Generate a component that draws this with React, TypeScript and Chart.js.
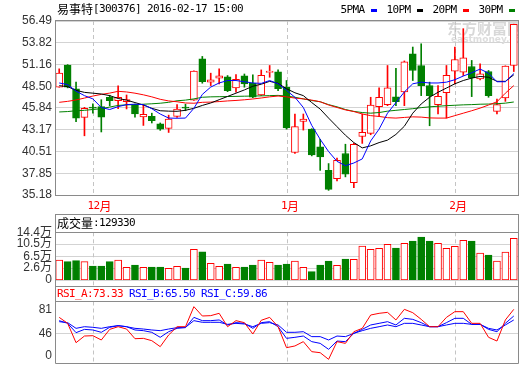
import React, { useEffect, useRef } from 'react';
import { Chart, registerables } from 'chart.js';
Chart.register(...registerables);

// ---------------- data ----------------
const dates = [
  '2015-11-25','2015-11-26','2015-11-27','2015-11-30',
  '2015-12-01','2015-12-02','2015-12-03','2015-12-04','2015-12-07','2015-12-08','2015-12-09','2015-12-10','2015-12-11',
  '2015-12-14','2015-12-15','2015-12-16','2015-12-17','2015-12-18','2015-12-21','2015-12-22','2015-12-23','2015-12-24','2015-12-25',
  '2015-12-28','2015-12-29','2015-12-30','2015-12-31',
  '2016-01-04','2016-01-05','2016-01-06','2016-01-07','2016-01-08','2016-01-11','2016-01-12','2016-01-13','2016-01-14','2016-01-15',
  '2016-01-18','2016-01-19','2016-01-20','2016-01-21','2016-01-22','2016-01-25','2016-01-26','2016-01-27','2016-01-28','2016-01-29',
  '2016-02-01','2016-02-02','2016-02-03','2016-02-04','2016-02-05','2016-02-15','2016-02-16','2016-02-17',
];
const opens = [48.38,51.1,48.17,44.69,45.95,46.0,47.15,46.74,46.61,46.2,44.75,44.82,43.9,43.33,44.81,45.95,46.8,51.86,48.99,49.48,49.65,48.3,49.77,48.87,47.43,50.18,50.26,48.4,40.38,44.2,43.25,41.08,38.21,37.19,40.26,36.68,42.35,42.72,46.0,46.25,47.2,47.8,52.48,51.04,48.58,46.25,47.72,50.35,50.22,50.92,49.4,50.3,45.42,47.06,51.04];
const highs = [50.63,51.15,49.0,45.92,46.35,46.85,47.4,48.55,47.43,46.3,46.2,45.2,44.0,44.96,46.25,46.3,50.4,52.15,50.1,50.63,49.81,49.94,50.0,49.9,50.5,51.04,50.5,49.2,45.1,45.1,43.3,42.0,39.03,39.7,41.4,41.5,45.1,47.15,48.3,51.04,50.7,51.6,53.3,53.7,49.0,48.58,51.04,53.3,55.55,51.66,51.25,50.43,46.94,51.0,56.1];
const lows = [48.38,48.3,44.15,42.43,45.2,42.9,46.1,45.75,45.72,44.7,43.7,44.0,43.1,42.84,44.69,45.5,46.75,48.87,48.58,48.79,47.84,47.76,48.38,47.1,47.35,49.6,47.97,43.25,40.26,43.13,39.97,38.2,35.75,36.9,37.4,36.08,41.5,42.56,44.77,46.12,46.12,46.12,49.2,47.35,43.66,45.1,44.6,48.79,49.81,47.23,49.28,47.15,45.1,46.65,50.3];
const closes = [50.1,48.4,44.6,45.79,45.8,44.7,46.73,47.15,46.86,45.1,45.05,44.28,43.25,44.47,45.71,45.8,50.35,49.07,49.28,49.77,47.97,49.36,48.79,47.15,49.85,50.35,48.21,43.4,43.55,44.48,40.1,39.85,35.87,39.44,37.72,41.4,42.84,46.2,47.15,48.3,46.62,51.5,50.43,48.58,47.35,47.27,49.85,51.78,51.99,49.52,50.02,47.35,46.25,50.96,56.08];

const ma5 = [48.9,48.7,47.9,47.35,46.95,45.9,45.65,46.0,46.25,46.3,46.25,45.75,45.1,44.6,44.58,44.6,45.8,47.5,48.4,48.9,49.2,49.2,49.05,48.9,48.85,49.2,48.8,48.0,47.15,45.9,43.7,42.0,40.5,39.3,38.77,39.1,39.6,41.8,43.25,45.2,46.5,47.8,48.8,49.0,48.9,48.9,49.0,49.3,49.75,50.15,50.6,50.1,49.05,49.05,50.05];
const ma10 = [48.57,48.45,48.0,47.75,47.65,47.55,47.35,47.0,46.8,46.5,46.2,45.8,45.5,45.45,45.43,45.55,45.8,46.15,46.45,46.85,47.25,47.65,48.05,48.5,48.75,49.1,48.85,48.2,47.7,47.35,46.5,45.7,44.6,43.55,42.5,41.6,40.95,41.2,41.6,41.9,42.6,43.6,45.2,46.33,47.15,47.76,48.28,48.8,49.2,49.5,49.7,49.6,49.1,49.1,49.9];
const ma20 = [46.53,46.65,46.82,47.05,47.3,47.5,47.66,47.88,47.8,47.65,47.45,47.2,46.9,46.7,46.6,46.45,46.42,46.53,46.56,46.62,46.7,46.76,46.84,46.94,47.06,47.2,47.3,47.2,47.05,46.95,46.8,46.6,46.2,45.9,45.6,45.4,45.1,44.9,44.8,44.65,44.6,44.68,44.75,44.72,44.62,44.6,44.6,44.9,45.2,45.5,45.82,46.2,46.6,47.65,48.58];
const ma30 = [45.35,45.4,45.5,45.55,45.65,45.75,45.95,46.15,46.22,46.25,46.3,46.35,46.42,46.53,46.72,46.8,46.95,47.15,47.2,47.22,47.24,47.26,47.28,47.3,47.32,47.35,47.38,47.3,47.15,46.95,46.75,46.6,46.25,45.98,45.65,45.42,45.28,45.2,45.28,45.45,45.55,45.65,45.75,45.88,45.98,46.05,46.12,46.17,46.22,46.25,46.3,46.32,46.36,46.43,46.57];

// volume in 万 (10k shares)
const volumes = [5.27,4.71,5.04,4.71,3.29,3.29,4.71,5.27,2.86,3.62,2.86,2.96,2.96,2.53,3.19,2.63,8.79,8.0,4.18,3.19,3.95,2.86,2.96,3.62,5.27,4.5,3.62,3.95,4.94,2.86,1.41,3.62,4.94,3.51,5.6,5.5,9.88,8.79,9.12,10.44,9.22,10.77,11.53,12.85,11.53,10.77,9.12,9.78,11.76,11.53,7.57,6.92,4.94,7.9,12.42];

const rsiA = [69.3,60.6,32.4,42.1,42.6,36.3,51.8,55.7,52.3,38.2,38.7,35.3,26.6,43.6,55.7,55.7,84.9,71.3,71.8,75.2,55.7,64.5,61.6,45.0,65.0,69.3,55.7,25.1,27.6,33.9,19.3,17.8,8.1,33.9,31.4,48.4,53.3,72.7,75.2,76.6,65.5,81.0,76.1,66.4,55.7,55.7,69.3,77.6,77.6,60.6,60.6,40.2,34.8,65.5,81.0];
const rsiB = [64.5,60.6,47.0,51.8,50.9,47.5,54.8,57.2,55.7,50.9,49.9,47.5,40.2,48.4,53.3,54.3,69.3,64.5,64.5,65.5,58.2,61.6,60.6,53.3,61.6,63.0,55.7,38.7,40.2,42.1,33.9,31.4,22.7,34.8,33.9,46.0,51.8,58.2,60.6,63.0,58.2,67.9,66.4,61.6,55.7,55.7,61.6,67.9,67.9,59.1,59.1,51.8,48.4,60.6,71.3];
const rsiC = [63.0,61.6,53.3,55.7,54.8,53.3,55.7,57.2,55.7,53.3,52.3,50.9,49.9,52.3,54.3,54.8,64.5,62.1,62.1,62.1,59.1,60.6,59.6,55.7,60.6,61.6,58.2,47.5,47.5,48.4,41.2,41.2,36.3,42.1,41.2,46.0,49.9,53.3,55.7,58.2,55.7,60.6,60.6,58.2,55.7,55.7,58.2,60.6,60.6,59.1,59.1,53.3,50.9,58.2,65.5];

const priceTicks = [56.49, 53.82, 51.16, 48.50, 45.84, 43.17, 40.51, 37.85, 35.18];
const volAxisMin = -1.33;
const volTickValues = [-1.33, 2.6, 6.5, 10.5, 14.4];
const volTickLabels = ['0', '2.6万', '6.5万', '10.5万', '14.4万'];
const rsiTickValues = [81, 46, 0];
const rsiGridValues = [46];

const titleText = '易事特[300376] 2016-02-17 15:00';
const maLegend = [
  { label: '5PMA', color: '#0000ff' },
  { label: '10PM', color: '#000000' },
  { label: '20PM', color: '#ff0000' },
  { label: '30PM', color: '#008000' },
];
const volTitle = '成交量:129330';
const rsiTitles = [
  { text: 'RSI_A:73.33', color: '#ff0000' },
  { text: 'RSI_B:65.50', color: '#0000ff' },
  { text: 'RSI_C:59.86', color: '#0000ff' },
];

// ---------------- styles ----------------
const UP = '#ff0000';
const DOWN = '#008000';
const FRAME = '#8a8a8a';
const GRID = '#d3d3d3';
const DASH = '#c4c4c4';
const TICK_FONT = { family: "'Liberation Sans','Noto Sans CJK SC',sans-serif", size: 12 };

const isUp = closes.map((c, i) => c >= opens[i]);
const fillCols = isUp.map((u) => (u ? '#ffffff' : DOWN));
const lineCols = isUp.map((u) => (u ? UP : DOWN));
const monthStarts: { idx: number; label: string }[] = [];
dates.forEach((d, i) => {
  if (i > 0 && d.slice(0, 7) !== dates[i - 1].slice(0, 7)) {
    monthStarts.push({ idx: i, label: parseInt(d.slice(5, 7), 10) + '月' });
  }
});

function drawMono(ctx: CanvasRenderingContext2D, text: string, x: number, y: number, color: string) {
  ctx.save();
  ctx.fillStyle = color;
  ctx.textBaseline = 'middle';
  ctx.textAlign = 'left';
  let cx = x;
  for (const ch of text) {
    const cjk = ch.charCodeAt(0) > 0x2e80;
    ctx.font = cjk ? "12px 'Noto Sans CJK SC'" : "11px 'DejaVu Sans Mono'";
    if (ch !== ' ') ctx.fillText(ch, cx, y);
    cx += cjk ? 12 : 6;
  }
  ctx.restore();
  return cx;
}

function hLine(ctx: CanvasRenderingContext2D, x1: number, x2: number, y: number, color: string) {
  ctx.save();
  ctx.strokeStyle = color;
  ctx.lineWidth = 1;
  ctx.beginPath();
  ctx.moveTo(x1, y);
  ctx.lineTo(x2, y);
  ctx.stroke();
  ctx.restore();
}
function vLine(ctx: CanvasRenderingContext2D, x: number, y1: number, y2: number, color: string, dash?: number[]) {
  ctx.save();
  ctx.strokeStyle = color;
  ctx.lineWidth = 1;
  if (dash) ctx.setLineDash(dash);
  ctx.beginPath();
  ctx.moveTo(x, y1);
  ctx.lineTo(x, y2);
  ctx.stroke();
  ctx.restore();
}

function monthLines(chart: any, y1: number, y2: number) {
  const x = chart.scales.x;
  monthStarts.forEach((m) => {
    const px = Math.round(x.getPixelForValue(m.idx)) + 0.5;
    vLine(chart.ctx, px, y1, y2, DASH, [4, 3]);
  });
}

const baseOptions = (padding: any) => ({
  animation: false as const,
  responsive: false,
  maintainAspectRatio: false,
  devicePixelRatio: 1,
  events: [] as any[],
  layout: { padding },
  plugins: { legend: { display: false }, tooltip: { enabled: false } },
});

const fixAxis = (s: any) => {
  s.width = 55;
  s.paddingTop = 0;
  s.paddingBottom = 0;
};

// ---------------- main chart ----------------
const mainPlugin = {
  id: 'mainDecor',
  beforeDatasetsDraw(chart: any) {
    const { ctx, chartArea: a } = chart;
    ctx.save();
    ctx.beginPath();
    ctx.rect(a.left, a.top, a.right - a.left, a.bottom - a.top);
    ctx.clip();
    ctx.fillStyle = '#d8d8d8';
    ctx.textBaseline = 'middle';
    ctx.font = "bold 15px 'Noto Sans CJK SC'";
    ctx.fillText('东方财富网', a.right - 71, 28);
    ctx.fillStyle = '#dddddd';
    ctx.font = "bold 9px 'DejaVu Sans'";
    ctx.fillText('eastmoney.com', a.right - 67, 40);
    ctx.restore();
    monthLines(chart, a.top, a.bottom);
  },
  afterDraw(chart: any) {
    const { ctx, chartArea: a } = chart;
    const L = Math.round(a.left) + 0.5;
    const R = Math.round(a.right) + 0.5;
    const T = Math.round(a.top) - 0.5;
    const B = Math.round(a.bottom) + 0.5;
    ctx.save();
    ctx.strokeStyle = FRAME;
    ctx.lineWidth = 1;
    ctx.strokeRect(L, T, R - L, B - T);
    ctx.restore();
    drawMono(ctx, titleText, 57, 9, '#000000');
    // legend, right-aligned
    const itemW = 24 + 6.5 + 6;
    let x = a.right - 3 - (maLegend.length * itemW + (maLegend.length - 1) * 9.5);
    maLegend.forEach((m) => {
      drawMono(ctx, m.label, x, 10, '#000000');
      x += 24 + 6.5;
      ctx.fillStyle = m.color;
      ctx.fillRect(x, 9, 6, 3);
      x += 6 + 9.5;
    });
    const xs = chart.scales.x;
    monthStarts.forEach((m) => {
      const px = xs.getPixelForValue(m.idx);
      drawMono(ctx, m.label, px - 5.5, 206, '#ff0000');
    });
  },
};

function mainConfig(): any {
  return {
    data: {
      labels: dates,
      datasets: [
        { type: 'line', label: 'MA5', data: ma5, borderColor: '#0000ff', borderWidth: 1, pointRadius: 0, order: 0 },
        { type: 'line', label: 'MA10', data: ma10, borderColor: '#000000', borderWidth: 1, pointRadius: 0, order: 0 },
        { type: 'line', label: 'MA20', data: ma20, borderColor: '#ff0000', borderWidth: 1, pointRadius: 0, order: 0 },
        { type: 'line', label: 'MA30', data: ma30, borderColor: '#008000', borderWidth: 1, pointRadius: 0, order: 0 },
        {
          type: 'bar', label: 'body', data: opens.map((o, i) => [o, closes[i]]),
          backgroundColor: fillCols, borderColor: lineCols, borderWidth: 1, borderSkipped: false,
          barThickness: 7, grouped: false, order: 1,
        },
        {
          type: 'bar', label: 'wick', data: lows.map((l, i) => [l, highs[i]]),
          backgroundColor: lineCols, borderWidth: 0, barThickness: 1, grouped: false, order: 2,
        },
      ],
    },
    options: {
      ...baseOptions({ left: 0, right: 2, top: 21, bottom: 19 }),
      scales: {
        x: { type: 'category', display: false, offset: true, grid: { display: false } },
        y: {
          type: 'linear', position: 'left',
          min: priceTicks[priceTicks.length - 1], max: priceTicks[0],
          afterBuildTicks: (s: any) => { s.ticks = priceTicks.map((v) => ({ value: v })); },
          afterFit: fixAxis,
          ticks: { autoSkip: false, callback: (v: any) => Number(v).toFixed(2), font: TICK_FONT, color: '#333333', padding: 3 },
          grid: { color: GRID, drawTicks: false },
          border: { display: false },
        },
      },
    },
    plugins: [mainPlugin],
  };
}

// ---------------- volume chart ----------------
const volPlugin = {
  id: 'volDecor',
  beforeDatasetsDraw(chart: any) {
    monthLines(chart, chart.chartArea.top, chart.height);
  },
  afterDraw(chart: any) {
    const { ctx, chartArea: a } = chart;
    const L = Math.round(a.left) + 0.5;
    const R = Math.round(a.right) + 0.5;
    hLine(ctx, L, R, 0.5, FRAME);
    hLine(ctx, L, R, Math.round(a.top) + 0.5, FRAME);
    vLine(ctx, L, 0, chart.height, FRAME);
    vLine(ctx, R, 0, chart.height, FRAME);
    drawMono(ctx, volTitle, 57, 9.5, '#000000');
  },
};

function volConfig(): any {
  return {
    data: {
      labels: dates,
      datasets: [
        {
          type: 'bar', label: 'volume', data: volumes.map((v) => [volAxisMin, v]),
          backgroundColor: fillCols, borderColor: lineCols, borderWidth: 1, borderSkipped: false,
          barThickness: 7, grouped: false,
        },
      ],
    },
    options: {
      ...baseOptions({ left: 0, right: 2, top: 18.3, bottom: 6 }),
      scales: {
        x: { type: 'category', display: false, offset: true, grid: { display: false } },
        y: {
          type: 'linear', position: 'left',
          min: volTickValues[0], max: volTickValues[volTickValues.length - 1],
          afterBuildTicks: (s: any) => { s.ticks = volTickValues.map((v) => ({ value: v })); },
          afterFit: fixAxis,
          ticks: { autoSkip: false, callback: (_v: any, i: number) => volTickLabels[i], font: TICK_FONT, color: '#333333', padding: 3 },
          grid: { color: GRID, drawTicks: false },
          border: { display: false },
        },
      },
    },
    plugins: [volPlugin],
  };
}

// ---------------- RSI chart ----------------
const RSI_SEP = 15.5;
const RSI_BOTTOM = 77.5;
const rsiPlugin = {
  id: 'rsiDecor',
  beforeDatasetsDraw(chart: any) {
    monthLines(chart, RSI_SEP, RSI_BOTTOM);
  },
  afterDraw(chart: any) {
    const { ctx, chartArea: a } = chart;
    const L = Math.round(a.left) + 0.5;
    const R = Math.round(a.right) + 0.5;
    hLine(ctx, L, R, 0.5, FRAME);
    hLine(ctx, L, R, RSI_SEP, FRAME);
    hLine(ctx, L, R, RSI_BOTTOM, FRAME);
    vLine(ctx, L, 0, RSI_BOTTOM, FRAME);
    vLine(ctx, R, 0, RSI_BOTTOM, FRAME);
    const ys = chart.scales.y;
    ctx.save();
    ctx.font = "12px 'Liberation Sans'";
    ctx.fillStyle = '#333333';
    ctx.textAlign = 'right';
    ctx.textBaseline = 'middle';
    rsiTickValues.forEach((v) => {
      const py = Math.min(ys.getPixelForValue(v), RSI_BOTTOM - 7.5);
      ctx.fillText(String(v), a.left - 3, py);
    });
    ctx.restore();
    let x = 57;
    rsiTitles.forEach((t) => {
      x = drawMono(ctx, t.text + ' ', x, 8.5, t.color);
    });
  },
};

function rsiConfig(): any {
  return {
    data: {
      labels: dates,
      datasets: [
        { type: 'line', label: 'RSI_A', data: rsiA, borderColor: '#ff0000', borderWidth: 1, pointRadius: 0 },
        { type: 'line', label: 'RSI_B', data: rsiB, borderColor: '#0000ff', borderWidth: 1, pointRadius: 0 },
        { type: 'line', label: 'RSI_C', data: rsiC, borderColor: '#0000ff', borderWidth: 1, pointRadius: 0 },
      ],
    },
    options: {
      ...baseOptions({ left: 0, right: 2, top: 10.3, bottom: 0.1 }),
      scales: {
        x: { type: 'category', display: false, offset: true, grid: { display: false } },
        y: {
          type: 'linear', position: 'left', min: 0, max: 100,
          afterBuildTicks: (s: any) => { s.ticks = rsiTickValues.map((v) => ({ value: v })); },
          afterFit: fixAxis,
          ticks: { display: false },
          grid: {
            drawTicks: false,
            color: (c: any) => (c.tick && rsiGridValues.includes(c.tick.value) ? GRID : 'rgba(0,0,0,0)'),
          },
          border: { display: false },
        },
      },
    },
    plugins: [rsiPlugin],
  };
}

export default function App() {
  const mainRef = useRef<HTMLCanvasElement>(null);
  const volRef = useRef<HTMLCanvasElement>(null);
  const rsiRef = useRef<HTMLCanvasElement>(null);
  useEffect(() => {
    const charts = [
      new Chart(mainRef.current as HTMLCanvasElement, mainConfig()),
      new Chart(volRef.current as HTMLCanvasElement, volConfig()),
      new Chart(rsiRef.current as HTMLCanvasElement, rsiConfig()),
    ];
    return () => charts.forEach((c) => c.destroy());
  }, []);
  return (
    <div style={{ position: 'fixed', left: 0, top: 0, width: 520, height: 365, background: '#ffffff', overflow: 'hidden' }}>
      <canvas ref={mainRef} width={520} height={214} style={{ position: 'absolute', left: 0, top: 0 }} />
      <canvas ref={volRef} width={520} height={72} style={{ position: 'absolute', left: 0, top: 214 }} />
      <canvas ref={rsiRef} width={520} height={79} style={{ position: 'absolute', left: 0, top: 286 }} />
    </div>
  );
}
